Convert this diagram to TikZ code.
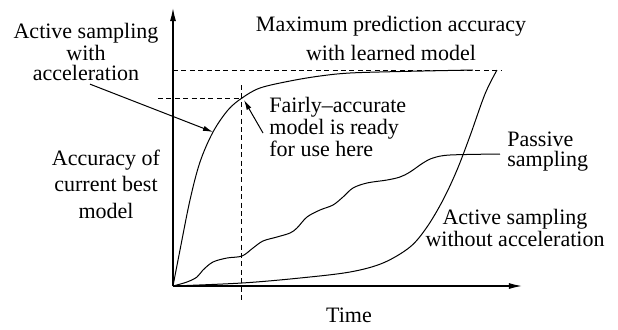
\documentclass[tikz,border=0pt]{standalone}
\usepackage{fontspec}
\setmainfont{LiberationSerif}[Extension=.ttf, UprightFont=*-Regular]
\usetikzlibrary{arrows.meta}

\begin{document}
\begin{tikzpicture}[
  x=0.5pt, y=-0.5pt,
  lbl/.style={inner sep=0pt, align=center, font=\rmfamily\fontsize{11}{10}\selectfont},
  axis/.style={-{Latex[length=6.5pt,width=3pt]}, line width=0.6pt},
  pointer/.style={-{Latex[length=5pt,width=2.6pt]}, line width=0.5pt},
  guide/.style={dash pattern=on 2.5pt off 1.7pt, line width=0.5pt},
  curve/.style={line width=0.5pt}
]
\useasboundingbox (0,0) rectangle (618,329);

% axes
\coordinate (origin) at (173,286);
\coordinate (ytop) at (173,8);
\coordinate (xend) at (522,286);
\draw[axis] (origin) -- (ytop);
\draw[axis] (origin) -- (xend);

% reference levels
\coordinate (maxl) at (173,70);
\coordinate (maxr) at (502,70);
\coordinate (kneel) at (158,98);
\coordinate (knee) at (242,98);
\coordinate (tmark) at (242,85);
\coordinate (tbot) at (242,300);
\draw[guide] (maxl) -- (maxr);
\draw[guide] (kneel) -- (knee);
\draw[guide] (tmark) -- (tbot);

% active sampling with acceleration
\coordinate (onfast) at (213,132);
\draw[curve] plot[smooth, tension=0.55] coordinates {
  (173,286) (180,250) (190,200) (200,162) (onfast) (228,110) (knee)
  (260,88) (290,81) (320,76) (350,73) (400,71.5) (473,70)};

% passive sampling
\draw[curve] plot[smooth, tension=0.55] coordinates {
  (173,286) (187,282) (197,277) (203,270) (213,262) (227,258) (242,256)
  (253,248) (263,241) (277,237) (290,233) (297,228) (307,217) (320,210)
  (333,205) (343,197) (353,188) (367,183) (387,180) (400,177) (410,172)
  (423,163) (433,158) (450,155) (500,154)};

% active sampling without acceleration
\draw[curve] plot[smooth, tension=0.55] coordinates {
  (173,286) (242,283) (300,278) (350,272) (383,263) (410,247) (427,227)
  (443,200) (457,170) (470,136) (485,94) (497,70)};

% labels
\node[lbl, font=\rmfamily\fontsize{11}{14.5}\selectfont] (maxacc) at (391,38)
  {Maximum prediction accuracy\\with learned model};
\node[lbl] (accel) at (86,52) {Active sampling\\with\\acceleration};
\node[lbl, align=left, anchor=west] (ready) at (269,127)
  {Fairly--accurate\\model is ready\\for use here};
\node[lbl, font=\rmfamily\fontsize{11}{13.3}\selectfont] (ylabel) at (106,184)
  {Accuracy of\\current best\\model};
\node[lbl, align=left, anchor=west] (passive) at (507,152) {Passive\\sampling};
\node[lbl] (noaccel) at (515,228) {Active sampling\\without acceleration};
\node[lbl] (xlabel) at (349,315) {Time};

\draw[pointer] ([shift={(4,3)}]accel.south) -- (onfast);
\draw[pointer] ([shift={(-6,6)}]ready.west) -- ([shift={(2,2)}]knee);
\end{tikzpicture}
\end{document}
